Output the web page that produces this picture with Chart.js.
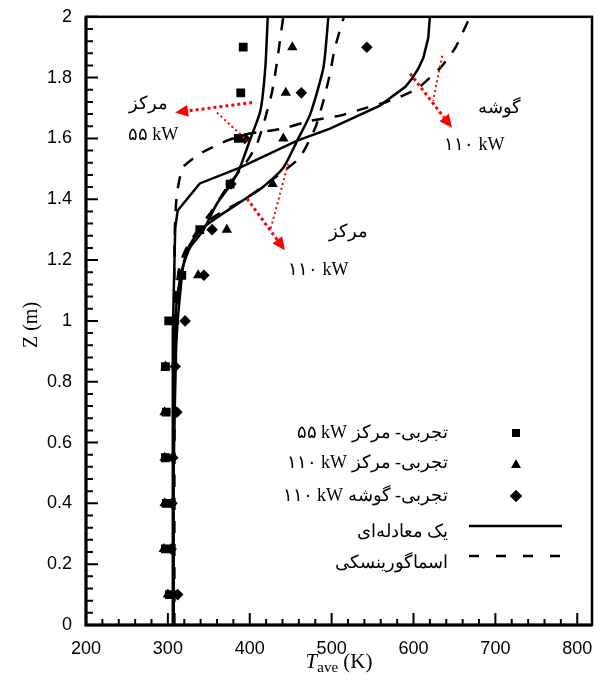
<!DOCTYPE html>
<html>
<head>
<meta charset="utf-8">
<script src="https://cdn.jsdelivr.net/npm/chart.js@4.4.0/dist/chart.umd.min.js"></script>
<style>
  html, body { margin: 0; padding: 0; background: #fff; }
  canvas { display: block; }
</style>
</head>
<body>
<canvas id="chart" width="600" height="681" style="width:600px;height:681px"></canvas>
<script>
// measured heights (m) of the experimental points
const zExp = [0.1, 0.25, 0.4, 0.55, 0.7, 0.85, 1.0, 1.15, 1.3, 1.45, 1.6, 1.75, 1.9];
const tExpCenter55 = [302, 297, 298, 297, 298, 297, 301, 317, 339, 376, 386, 389, 392];
const tExpCenter110 = [300, 295, 296, 296, 296, 297, 308, 337, 372, 428, 441, 444, 452];
const tExpCorner110 = [312, 304, 305, 306, 311, 309, 321, 344, 354, 377, 394, 463, 543];

// one-equation model (solid)
const zOneEqCenter55 = [0, 0.5, 0.9, 1.0, 1.09, 1.176, 1.241, 1.297, 1.386, 1.445, 1.504, 1.593, 1.691, 1.833, 2.0];
const tOneEqCenter55 = [307, 307, 308, 309, 312, 318, 327, 343, 360, 376, 388, 400, 413, 419, 422];
const zOneEqCenter110 = [0, 0.5, 0.9, 1.0, 1.09, 1.176, 1.241, 1.297, 1.34, 1.406, 1.438, 1.504, 1.593, 1.681, 1.833, 2.0];
const tOneEqCenter110 = [307, 307, 310, 312, 315, 318.5, 325, 339, 360, 397, 415, 441, 458, 474, 490, 496];
const zOneEqCorner110 = [0, 0.5, 0.96, 1.307, 1.363, 1.452, 1.504, 1.593, 1.632, 1.708, 1.77, 1.796, 1.83, 1.865, 1.93, 2.0];
const tOneEqCorner110 = [306, 306, 306, 309, 312, 339, 388, 458, 498, 559, 590, 598, 606, 612, 618, 620];

// Smagorinsky model (dashed)
const zSmagCenter55 = [0, 0.5, 1.0, 1.1, 1.189, 1.241, 1.297, 1.363, 1.438, 1.527, 1.583, 1.668, 1.75, 1.846, 1.944, 2.0];
const tSmagCenter55 = [307, 307, 308, 310, 315, 323, 336, 354, 372, 397, 409, 419, 427, 433, 438, 441];
const zSmagCenter110 = [0, 0.5, 0.9, 1.067, 1.143, 1.222, 1.287, 1.34, 1.406, 1.484, 1.537, 1.635, 1.724, 1.813, 1.898, 2.0];
const tSmagCenter110 = [307, 307, 309, 312, 315, 323, 336, 355, 397, 437, 461, 480, 490, 498, 504, 515];
const zSmagCorner110 = [0, 0.5, 1.25, 1.34, 1.419, 1.504, 1.55, 1.593, 1.616, 1.632, 1.658, 1.675, 1.698, 1.718, 1.741, 1.764, 1.833, 1.898, 2.0];
const tSmagCorner110 = [308, 308, 308, 309, 311, 318, 339, 372, 400, 440, 474, 510, 539, 565, 587, 605, 633, 651, 669];

const xTickValues = [200, 300, 400, 500, 600, 700, 800];
const yTickValues = [0, 0.2, 0.4, 0.6, 0.8, 1, 1.2, 1.4, 1.6, 1.8, 2];

const legendLabels = [
  '۵۵ kW تجربی- مرکز',
  '۱۱۰ kW تجربی- مرکز',
  '۱۱۰ kW تجربی- گوشه',
  'یک معادله‌ای',
  'اسماگورینسکی'
];

// red callouts, in data units (T, Z)
const callouts = [
  { from: [402.9, 1.718], tip: [308.8, 1.685], from2: [360, 1.685], to2: [396.7, 1.593],
    word: 'مرکز', wordAt: [275.8, 1.714], power: '۵۵ kW', powerAt: [281.9, 1.609] },
  { from: [396.7, 1.402], tip: [443, 1.232], from2: [446.9, 1.517], to2: [424.9, 1.297],
    word: 'مرکز', wordAt: [520.2, 1.291], power: '۱۱۰ kW', powerAt: [483.5, 1.166] },
  { from: [595.9, 1.813], tip: [647, 1.635], from2: [635, 1.872], to2: [624, 1.724],
    word: 'گوشه', wordAt: [704.7, 1.698], power: '۱۱۰ kW', powerAt: [674.2, 1.576] }
];

function pts(ts, zs) {
  return ts.map((t, i) => ({ x: t, y: zs[i] }));
}

function lineSet(ts, zs, dashed, tension) {
  return {
    data: pts(ts, zs),
    showLine: true,
    borderColor: '#000',
    borderWidth: 2.5,
    borderDash: dashed ? [12, 11] : [],
    pointRadius: 0,
    tension: tension,
    fill: false
  };
}

function markerSet(ts, style, radius) {
  return {
    data: pts(ts, zExp),
    showLine: false,
    pointStyle: style,
    pointRadius: radius,
    pointBackgroundColor: '#000',
    pointBorderColor: '#000',
    pointBorderWidth: 0
  };
}

const serif = '"Liberation Serif", "Times New Roman", "DejaVu Serif", serif';

const decor = {
  id: 'decor',
  afterDraw(chart) {
    const { ctx, chartArea: a, scales: { x, y } } = chart;
    ctx.save();
    ctx.strokeStyle = '#000';
    ctx.fillStyle = '#000';

    // frame
    ctx.lineWidth = 2.5;
    ctx.strokeRect(a.left, a.top, a.right - a.left, a.bottom - a.top);
    ctx.lineWidth = 3;
    ctx.beginPath();
    ctx.moveTo(a.left, a.top);
    ctx.lineTo(a.left, a.bottom);
    ctx.lineTo(a.right, a.bottom);
    ctx.stroke();

    // inward ticks
    ctx.lineWidth = 2;
    ctx.beginPath();
    for (let i = 0; 200 + i * 20 < x.max; i++) {
      const px = x.getPixelForValue(200 + i * 20);
      const len = i % 5 === 0 ? 12 : 6;
      ctx.moveTo(px, a.bottom);
      ctx.lineTo(px, a.bottom - len);
    }
    for (let i = 0; i <= 50; i++) {
      const py = y.getPixelForValue(i * 0.04);
      const len = i % 5 === 0 ? 12 : 7;
      ctx.moveTo(a.left, py);
      ctx.lineTo(a.left + len, py);
    }
    ctx.stroke();

    // axis titles
    ctx.save();
    ctx.translate(32, 325);
    ctx.rotate(-Math.PI / 2);
    ctx.font = '20px ' + serif;
    ctx.textAlign = 'center';
    ctx.textBaseline = 'middle';
    ctx.fillText('Z (m)', 0, 0);
    ctx.restore();

    ctx.textBaseline = 'alphabetic';
    ctx.textAlign = 'left';
    const parts = [
      { s: 'T', f: 'italic 21px ' + serif, dy: 0 },
      { s: 'ave', f: '15px ' + serif, dy: 4 },
      { s: ' (K)', f: '21px ' + serif, dy: 0 }
    ];
    let total = 0;
    parts.forEach(p => { ctx.font = p.f; p.w = ctx.measureText(p.s).width; total += p.w; });
    let cx = (a.left + a.right) / 2 - total / 2;
    parts.forEach(p => {
      ctx.font = p.f;
      ctx.fillText(p.s, cx, 668 + p.dy);
      cx += p.w;
    });

    // legend
    ctx.font = '18px ' + serif;
    ctx.textAlign = 'right';
    ctx.textBaseline = 'middle';
    const textRight = 448;
    const rowsText = [433, 463, 496, 532, 563];
    legendLabels.forEach((lab, i) => ctx.fillText(lab, textRight, rowsText[i]));
    Chart.helpers.drawPoint(ctx, { pointStyle: 'rect', radius: 5.5, borderWidth: 0 }, 516, 433);
    ctx.fill();
    Chart.helpers.drawPoint(ctx, { pointStyle: 'triangle', radius: 5.5, borderWidth: 0 }, 516, 465);
    ctx.fill();
    Chart.helpers.drawPoint(ctx, { pointStyle: 'rectRot', radius: 6, borderWidth: 0 }, 516, 496);
    ctx.fill();
    ctx.lineWidth = 2.5;
    ctx.beginPath();
    ctx.moveTo(469, 526);
    ctx.lineTo(562, 526);
    ctx.stroke();
    ctx.setLineDash([10, 17]);
    ctx.beginPath();
    ctx.moveTo(469, 556);
    ctx.lineTo(562, 556);
    ctx.stroke();
    ctx.setLineDash([]);

    // red callouts
    const P = d => [x.getPixelForValue(d[0]), y.getPixelForValue(d[1])];
    ctx.strokeStyle = '#ff0000';
    ctx.fillStyle = '#ff0000';
    callouts.forEach(c => {
      const [fx, fy] = P(c.from);
      const [tx, ty] = P(c.tip);
      const ang = Math.atan2(ty - fy, tx - fx);
      const headLen = 13, headHalf = 6;
      const bx = tx - Math.cos(ang) * headLen, by = ty - Math.sin(ang) * headLen;
      ctx.lineWidth = 3;
      ctx.setLineDash([3, 3]);
      ctx.beginPath();
      ctx.moveTo(fx, fy);
      ctx.lineTo(bx, by);
      ctx.stroke();
      const [f2x, f2y] = P(c.from2);
      const [t2x, t2y] = P(c.to2);
      ctx.lineWidth = 2;
      ctx.setLineDash([2, 3]);
      ctx.beginPath();
      ctx.moveTo(f2x, f2y);
      ctx.lineTo(t2x, t2y);
      ctx.stroke();
      ctx.setLineDash([]);
      ctx.beginPath();
      ctx.moveTo(tx, ty);
      ctx.lineTo(bx - Math.sin(ang) * headHalf, by + Math.cos(ang) * headHalf);
      ctx.lineTo(bx + Math.sin(ang) * headHalf, by - Math.cos(ang) * headHalf);
      ctx.closePath();
      ctx.fill();
    });
    ctx.fillStyle = '#000';
    ctx.textAlign = 'center';
    ctx.textBaseline = 'middle';
    ctx.font = '18px ' + serif;
    callouts.forEach(c => {
      const [wx, wy] = P(c.wordAt);
      ctx.fillText(c.word, wx, wy);
      const [px, py] = P(c.powerAt);
      ctx.fillText(c.power, px, py);
    });
    ctx.restore();
  }
};

const tickFont = { family: '"Liberation Sans", Arial, sans-serif', size: 18 };

new Chart(document.getElementById('chart').getContext('2d'), {
  type: 'scatter',
  data: {
    datasets: [
      lineSet(tOneEqCenter55, zOneEqCenter55, false, 0.2),
      lineSet(tOneEqCenter110, zOneEqCenter110, false, 0.2),
      lineSet(tOneEqCorner110, zOneEqCorner110, false, 0),
      lineSet(tSmagCenter55, zSmagCenter55, true, 0.2),
      lineSet(tSmagCenter110, zSmagCenter110, true, 0.2),
      lineSet(tSmagCorner110, zSmagCorner110, true, 0.15),
      markerSet(tExpCenter55, 'rect', 6.2),
      markerSet(tExpCenter110, 'triangle', 6),
      markerSet(tExpCorner110, 'rectRot', 5.8)
    ]
  },
  options: {
    responsive: false,
    animation: false,
    layout: { padding: { top: 16, right: 8, left: 0, bottom: 0 } },
    plugins: { legend: { display: false }, tooltip: { enabled: false } },
    scales: {
      x: {
        type: 'linear',
        min: 200,
        max: 818,
        afterBuildTicks: s => { s.ticks = xTickValues.map(v => ({ value: v })); },
        afterFit: s => { s.height = 56; },
        grid: { display: false },
        border: { display: false },
        ticks: { font: tickFont, color: '#000', padding: 5, maxRotation: 0, autoSkip: false }
      },
      y: {
        type: 'linear',
        min: 0,
        max: 2,
        afterBuildTicks: s => { s.ticks = yTickValues.map(v => ({ value: v })); },
        afterFit: s => { s.width = 86; },
        grid: { display: false },
        border: { display: false },
        ticks: {
          font: tickFont, color: '#000', padding: 6, autoSkip: false,
          callback: v => String(Number(v.toFixed(1)))
        }
      }
    }
  },
  plugins: [decor]
});
</script>
</body>
</html>
